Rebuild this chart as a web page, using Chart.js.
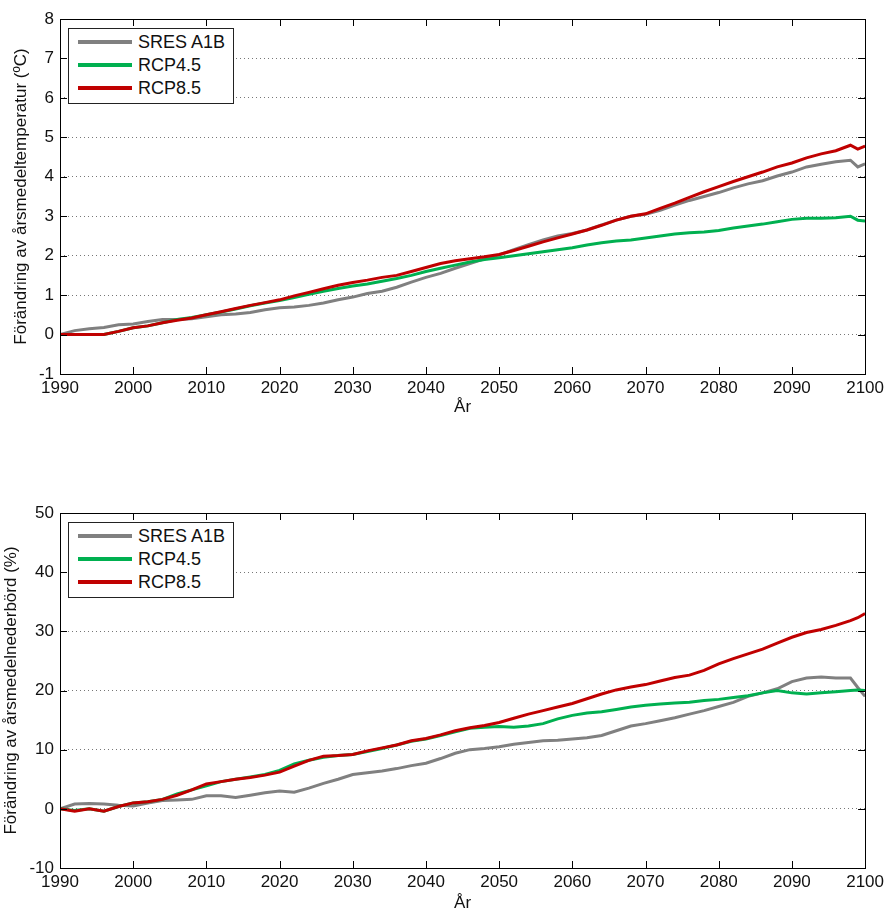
<!DOCTYPE html>
<html>
<head>
<meta charset="utf-8">
<script src="https://cdn.jsdelivr.net/npm/chart.js@4.4.1/dist/chart.umd.min.js"></script>
<style>
  html, body { margin: 0; padding: 0; background: #fff; }
  #wrap { position: relative; width: 888px; height: 912px; font-family: "Liberation Sans", Arial, sans-serif; }
  .cv { position: absolute; left: 0; }
  .legend { position: absolute; left: 68px; width: 164px; height: 74px; border: 1px solid #222; background: #fff; }
  .row { position: absolute; left: 0; height: 20px; width: 164px; }
  .row .ln { position: absolute; left: 9px; width: 54px; height: 4px; top: 8px; }
  .row .tx { position: absolute; left: 69px; top: 0; font-size: 18px; line-height: 20px; color: #111; white-space: nowrap; }
</style>
</head>
<body>
<div id="wrap">
  <canvas id="c1" class="cv" width="888" height="456" style="top:0"></canvas>
  <canvas id="c2" class="cv" width="888" height="456" style="top:456px"></canvas>
  <div class="legend" style="top:28px">
    <div class="row" style="top:3px"><div class="ln" style="background:#808080"></div><div class="tx">SRES A1B</div></div>
    <div class="row" style="top:26px"><div class="ln" style="background:#00b050"></div><div class="tx">RCP4.5</div></div>
    <div class="row" style="top:49px"><div class="ln" style="background:#c00000"></div><div class="tx">RCP8.5</div></div>
  </div>
  <div class="legend" style="top:522px">
    <div class="row" style="top:3px"><div class="ln" style="background:#808080"></div><div class="tx">SRES A1B</div></div>
    <div class="row" style="top:26px"><div class="ln" style="background:#00b050"></div><div class="tx">RCP4.5</div></div>
    <div class="row" style="top:49px"><div class="ln" style="background:#c00000"></div><div class="tx">RCP8.5</div></div>
  </div>
</div>
<script>
const years = [1990,1992,1994,1996,1998,2000,2002,2004,2006,2008,
  2010,2012,2014,2016,2018,2020,2022,2024,2026,2028,
  2030,2032,2034,2036,2038,2040,2042,2044,2046,2048,
  2050,2052,2054,2056,2058,2060,2062,2064,2066,2068,
  2070,2072,2074,2076,2078,2080,2082,2084,2086,2088,
  2090,2092,2094,2096,2098,2099,2100];

const seriesNames = ["SRES A1B", "RCP4.5", "RCP8.5"];

// Temperature change (°C)
const tempA1B = [0.0,0.1,0.15,0.18,0.25,0.27,0.33,0.38,0.38,0.4,
  0.45,0.5,0.52,0.56,0.63,0.68,0.7,0.74,0.8,0.88,
  0.95,1.04,1.1,1.2,1.33,1.45,1.55,1.68,1.8,1.92,
  2.02,2.15,2.28,2.4,2.5,2.56,2.65,2.78,2.9,3.0,
  3.05,3.15,3.28,3.4,3.5,3.6,3.72,3.82,3.9,4.02,
  4.12,4.25,4.32,4.38,4.42,4.25,4.33];
const tempRCP45 = [0,0,0,0,0.08,0.17,0.22,0.3,0.38,0.43,
  0.5,0.57,0.65,0.73,0.8,0.86,0.94,1.02,1.1,1.17,
  1.23,1.28,1.35,1.42,1.5,1.6,1.68,1.76,1.84,1.9,
  1.95,2.0,2.05,2.1,2.15,2.2,2.27,2.33,2.37,2.4,
  2.45,2.5,2.55,2.58,2.6,2.64,2.7,2.75,2.8,2.86,
  2.92,2.95,2.95,2.96,3.0,2.9,2.88];
const tempRCP85 = [0,0,0,0,0.08,0.17,0.22,0.3,0.36,0.42,
  0.5,0.58,0.66,0.74,0.81,0.88,0.98,1.07,1.16,1.25,
  1.32,1.38,1.45,1.5,1.6,1.7,1.8,1.87,1.92,1.97,
  2.03,2.13,2.24,2.35,2.45,2.55,2.65,2.77,2.9,3.0,
  3.06,3.2,3.33,3.48,3.62,3.75,3.88,4.0,4.12,4.25,
  4.35,4.48,4.58,4.66,4.8,4.7,4.78];

// Precipitation change (%)
const precA1B = [0,0.8,0.9,0.8,0.6,0.5,1.0,1.4,1.5,1.6,
  2.2,2.2,1.9,2.3,2.7,3.0,2.8,3.5,4.3,5.0,
  5.8,6.1,6.4,6.8,7.3,7.7,8.5,9.4,10.0,10.2,
  10.5,10.9,11.2,11.5,11.6,11.8,12.0,12.4,13.2,14.0,
  14.4,14.9,15.4,16.0,16.6,17.3,18.0,19.0,19.6,20.3,
  21.5,22.1,22.3,22.1,22.1,20.5,19.0];
const precRCP45 = [0,-0.3,0.0,-0.4,0.4,1.0,1.2,1.6,2.5,3.2,
  3.9,4.6,5.0,5.4,5.8,6.5,7.6,8.2,8.7,9.0,
  9.2,9.7,10.2,10.8,11.4,11.8,12.4,13.0,13.6,13.8,
  13.9,13.8,14.0,14.4,15.2,15.8,16.2,16.4,16.8,17.2,
  17.5,17.7,17.9,18.0,18.3,18.5,18.8,19.1,19.6,20.0,
  19.6,19.4,19.6,19.8,20.0,20.1,20.0];
const precRCP85 = [0,-0.4,0.0,-0.4,0.4,1.0,1.2,1.6,2.3,3.2,
  4.2,4.6,5.0,5.3,5.7,6.2,7.2,8.2,8.9,9.0,
  9.2,9.8,10.3,10.8,11.5,11.9,12.5,13.2,13.7,14.1,
  14.6,15.3,16.0,16.6,17.2,17.8,18.6,19.4,20.1,20.6,
  21.0,21.6,22.2,22.6,23.4,24.5,25.4,26.2,27.0,28.0,
  29.0,29.8,30.3,31.0,31.8,32.3,33.0];

const xTitle = "År";
const yTitleTemp = "Förändring av årsmedeltemperatur (ºC)";
const yTitlePrec = "Förändring av årsmedelnederbörd (%)";

const colors = ["#808080", "#00b050", "#c00000"];
const FONT = "'Liberation Sans', Arial, sans-serif";

const boxPlugin = {
  id: 'matlabBox',
  afterDraw(chart) {
    const {ctx, chartArea: {left, right, top, bottom}, scales: {x, y}} = chart;
    ctx.save();
    ctx.strokeStyle = '#000';
    ctx.lineWidth = 1;
    ctx.setLineDash([]);
    ctx.beginPath();
    x.ticks.forEach(t => {
      const px = Math.round(x.getPixelForValue(t.value)) + 0.5;
      ctx.moveTo(px, bottom); ctx.lineTo(px, bottom - 7);
      ctx.moveTo(px, top); ctx.lineTo(px, top + 7);
    });
    y.ticks.forEach(t => {
      const py = Math.round(y.getPixelForValue(t.value)) + 0.5;
      ctx.moveTo(left, py); ctx.lineTo(left + 7, py);
      ctx.moveTo(right, py); ctx.lineTo(right - 7, py);
    });
    ctx.stroke();
    ctx.strokeRect(Math.round(left) + 0.5, Math.round(top) + 0.5, Math.round(right - left), Math.round(bottom - top));
    ctx.restore();
  }
};

function makeChart(id, series, yMin, yMax, yStep, yTitle, cfg) {
  const datasets = series.map((vals, i) => ({
    label: seriesNames[i],
    data: years.map((yr, k) => ({x: yr, y: vals[k]})),
    borderColor: colors[i],
    backgroundColor: colors[i],
    borderWidth: 3,
    pointRadius: 0,
    tension: 0,
    fill: false,
    order: 2 - i
  }));
  return new Chart(document.getElementById(id), {
    type: 'line',
    data: { datasets },
    plugins: [boxPlugin],
    options: {
      responsive: false,
      animation: false,
      devicePixelRatio: 1,
      layout: { padding: { left: 0, right: 22, top: cfg.padTop, bottom: cfg.padBottom } },
      plugins: { legend: { display: false }, tooltip: { enabled: false } },
      scales: {
        x: {
          type: 'linear', min: 1990, max: 2100,
          ticks: { stepSize: 10, callback: v => String(v), color: '#111', padding: 4,
                   font: { family: FONT, size: 17 }, maxRotation: 0 },
          grid: { display: false, drawTicks: false },
          border: { display: false },
          title: { display: true, text: xTitle, color: '#111',
                   font: { family: FONT, size: 17, lineHeight: 1 }, padding: { top: 0, bottom: cfg.xTitlePad } },
          afterFit: s => { s.height = cfg.xHeight; }
        },
        y: {
          type: 'linear', min: yMin, max: yMax,
          ticks: { stepSize: yStep, color: '#111', padding: 6, font: { family: FONT, size: 17 } },
          grid: { color: '#777', lineWidth: 1, drawTicks: false },
          border: { display: false, dash: [1, 3] },
          title: { display: true, text: yTitle, color: '#111',
                   font: { family: FONT, size: 17, lineHeight: 1 }, padding: { top: cfg.yTitlePad, bottom: 0 } },
          afterFit: s => { s.width = 60; }
        }
      }
    }
  });
}

makeChart('c1', [tempA1B, tempRCP45, tempRCP85], -1, 8, 1, yTitleTemp,
  { padTop: 19, padBottom: 32, xHeight: 50, xTitlePad: 8, yTitlePad: 13 });
makeChart('c2', [precA1B, precRCP45, precRCP85], -10, 50, 10, yTitlePrec,
  { padTop: 57, padBottom: 0, xHeight: 44, xTitlePad: 0, yTitlePad: 3 });
</script>
</body>
</html>
